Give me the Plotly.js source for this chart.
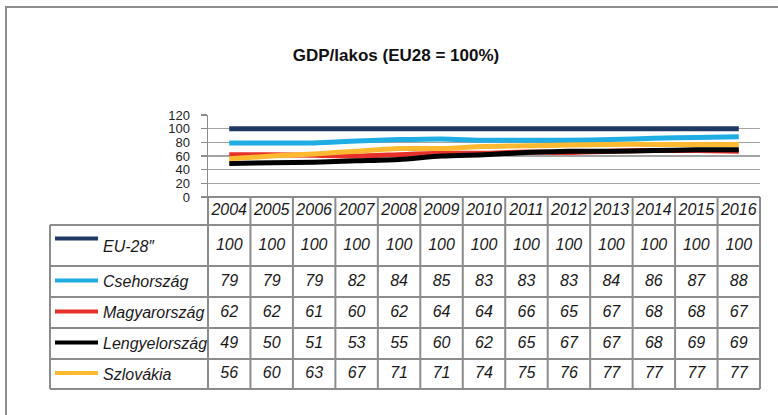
<!DOCTYPE html>
<html><head><meta charset="utf-8">
<script src="https://cdn.plot.ly/plotly-3.0.1.min.js"></script>
<style>html,body{margin:0;padding:0;background:#fff;}#chart{width:778px;height:415px;}</style>
</head><body><div id="chart"></div>
<script>
// ---- data ----
const years = ['2004','2005','2006','2007','2008','2009','2010','2011','2012','2013','2014','2015','2016'];
const seriesNames = ['EU-28\u2033','Csehország','Magyarország','Lengyelország','Szlovákia'];
const eu28    = [100,100,100,100,100,100,100,100,100,100,100,100,100];
const cseh    = [79,79,79,82,84,85,83,83,83,84,86,87,88];
const magyar  = [62,62,61,60,62,64,64,66,65,67,68,68,67];
const lengyel = [49,50,51,53,55,60,62,65,67,67,68,69,69];
const szlovak = [56,60,63,67,71,71,74,75,76,77,77,77,77];
const yTicks  = [0,20,40,60,80,100,120];
const seriesValues = [eu28, cseh, magyar, lengyel, szlovak];

// ---- styles / layout ----
const colors = ['#1f3864','#1fade4','#e8302a','#000000','#fdb92f'];
const W = 778, H = 415, L = 208, R = 760, T = 115, B = 389, SPLIT = 197;
const plotW = R - L, plotH = B - T;
const lineDomain = [(B - SPLIT) / plotH, 1];
const tableH = B - SPLIT;
const rowEdges = [0, 28, 69, 100, 131, 162, 192]; // table-local pixel rows
const keyOffset = [-7, -1, -1, -1, -1];
const leftColPx = 50, keyStartPx = 55, keyEndPx = 98, namePx = 101;
const sans = 'Liberation Sans, Arial, sans-serif';
const border = '#8c8c8c';
const cellFont = {family: sans, size: 16, style: 'italic', color: '#1a1a1a'};

const px2x = p => (p - L) / plotW;
const px2y = p => (B - p) / plotH;
const tY = v => lineDomain[0] * (1 - v / tableH);
const rowCenter = i => (rowEdges[i] + rowEdges[i + 1]) / 2;

const traces = [];
seriesValues.forEach((vals, i) => {
  traces.push({
    type: 'scatter', mode: 'lines', x: years, y: vals, xaxis: 'x', yaxis: 'y',
    line: {color: colors[i], width: 5, shape: 'spline', smoothing: 0.7},
    hoverinfo: 'skip', showlegend: false
  });
});
// header row (years)
traces.push({
  type: 'scatter', mode: 'text', x: years, y: years.map(() => rowCenter(0)),
  text: years, xaxis: 'x', yaxis: 'y2', cliponaxis: false,
  textfont: cellFont, hoverinfo: 'skip', showlegend: false
});
seriesValues.forEach((vals, i) => {
  traces.push({
    type: 'scatter', mode: 'text', x: years, y: vals.map(() => rowCenter(i + 1)),
    text: vals.map(String), xaxis: 'x', yaxis: 'y2', cliponaxis: false,
    textfont: cellFont, hoverinfo: 'skip', showlegend: false
  });
});

const shapes = [];
const ln = (x0, y0, x1, y1, color, width) => shapes.push({
  type: 'line', xref: 'paper', yref: 'paper', x0, y0, x1, y1,
  line: {color: color || border, width: width || 2}, layer: 'above'
});
// vertical borders of data columns
for (let i = 0; i <= years.length; i++) {
  ln(i / years.length, tY(0), i / years.length, tY(rowEdges[rowEdges.length - 1]));
}
// header top border
ln(0, tY(0), 1, tY(0));
// row borders incl. left column
for (let r = 1; r < rowEdges.length; r++) {
  ln(px2x(leftColPx), tY(rowEdges[r]), 1, tY(rowEdges[r]));
}
ln(px2x(leftColPx), tY(rowEdges[1]), px2x(leftColPx), tY(rowEdges[rowEdges.length - 1]));
// legend keys
seriesNames.forEach((n, i) => {
  const yy = tY(rowCenter(i + 1) + keyOffset[i]);
  ln(px2x(keyStartPx), yy, px2x(keyEndPx), yy, colors[i], 4);
});
// outer frame (top + left)
ln(px2x(5), px2y(7), px2x(778), px2y(7), '#8c8c8c', 2);
ln(px2x(6), px2y(7), px2x(6), px2y(415), '#8c8c8c', 2);

const annotations = seriesNames.map((n, i) => ({
  xref: 'paper', yref: 'paper', x: px2x(namePx), y: tY(rowCenter(i + 1) + (i === 0 ? 1 : 0)),
  xanchor: 'left', yanchor: 'middle', text: n, showarrow: false,
  font: cellFont
}));

const layout = {
  width: W, height: H,
  margin: {l: L, r: W - R, t: T, b: H - B, pad: 0},
  paper_bgcolor: '#ffffff', plot_bgcolor: '#ffffff',
  showlegend: false,
  title: {
    text: 'GDP/lakos (EU28 = 100%)', xref: 'container', yref: 'container',
    x: 396 / W, y: 1 - 55 / H, xanchor: 'center', yanchor: 'middle',
    font: {family: sans, size: 17, weight: 'bold', color: '#111'}
  },
  xaxis: {
    type: 'category', range: [-0.5, years.length - 0.5], showticklabels: false,
    showgrid: false, zeroline: false, showline: false, ticks: '', fixedrange: true
  },
  yaxis: {
    domain: lineDomain, range: [0, 120], tickmode: 'array', tickvals: yTicks,
    ticktext: yTicks.map(String), showgrid: true, gridcolor: '#a3a3a3', gridwidth: 1.5,
    zeroline: false, showline: true, linecolor: border, linewidth: 1.5,
    ticks: 'outside', ticklen: 6, tickcolor: border, tickwidth: 1.5,
    ticklabelstandoff: 8,
    tickfont: {family: sans, size: 13, color: '#222'}, fixedrange: true
  },
  yaxis2: {
    domain: [0, lineDomain[0]], range: [tableH, 0], visible: false, anchor: 'x', fixedrange: true
  },
  shapes, annotations
};

Plotly.newPlot('chart', traces, layout, {displayModeBar: false, staticPlot: true});
</script></body></html>
